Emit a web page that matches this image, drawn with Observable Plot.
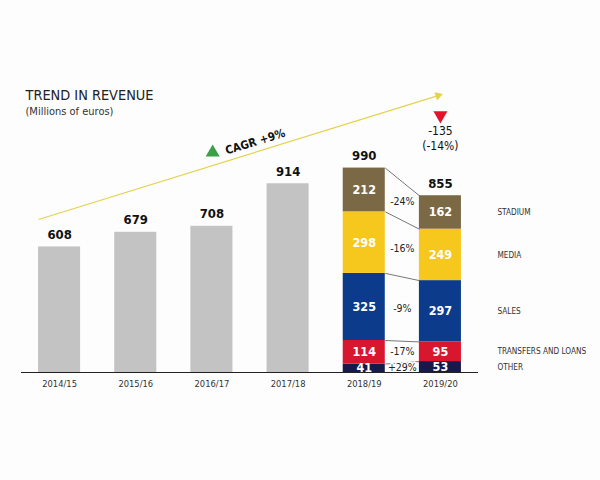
<!DOCTYPE html>
<html>
<head>
<meta charset="utf-8">
<script src="https://cdn.jsdelivr.net/npm/d3@7"></script>
<script src="https://cdn.jsdelivr.net/npm/@observablehq/plot@0.6"></script>
<style>
  html, body { margin: 0; padding: 0; background: #fdfdfd; }
  #chart svg { display: block; }
</style>
</head>
<body>
<div id="chart"></div>
<script>
// Season labels and total revenue (millions of euros)
const years = ["2014/15", "2015/16", "2016/17", "2017/18", "2018/19", "2019/20"];
const totals = [608, 679, 708, 914, 990, 855];

// Revenue breakdown for the last two seasons, bottom to top
const categories = ["OTHER", "TRANSFERS AND LOANS", "SALES", "MEDIA", "STADIUM"];
const rev1819 = [41, 114, 325, 298, 212];
const rev1920 = [53, 95, 297, 249, 162];
const changes = ["+29%", "-17%", "-9%", "-16%", "-24%"];
const catColors = ["#161a4a", "#d8172f", "#0d3b8c", "#f6c81e", "#7a6944"];

// Annotations
const cagrLabel = "CAGR +9%";
const dropLabel = "-135\n(-14%)";
const title = "TREND IN REVENUE";
const subtitle = "(Millions of euros)";

const FONT = "'DejaVu Sans Condensed', 'Liberation Sans Narrow', Roboto, sans-serif";
const hw = 0.276; // half bar width in x units

// Stack the breakdown segments
const segs = [];
[[4, rev1819], [5, rev1920]].forEach(([xi, vals]) => {
  let acc = 0;
  vals.forEach((v, k) => {
    segs.push({xi, cat: categories[k], value: v, y1: acc, y2: acc + v, mid: acc + v / 2});
    acc += v;
  });
});
const s1819 = segs.filter(d => d.xi === 4);
const s1920 = segs.filter(d => d.xi === 5);

// Connectors between segment tops, and change labels between the stacks
const links = categories.map((c, k) => ({y1: s1819[k].y2, y2: s1920[k].y2}));
const changeLabels = categories.map((c, k) => ({
  text: changes[k],
  y: (s1819[k].mid + s1920[k].mid) / 2
}));

// Grey bars for the earlier seasons
const greyBars = totals.slice(0, 4).map((t, i) => ({xi: i, total: t}));
const totalLabels = totals.map((t, i) => ({xi: i, total: t}));

// Trend arrow (data units)
const trend = {x1: -hw, y1: 741, x2: 4.97, y2: 1341};
const pxPerX = (478 - 21) / 6, pxPerY = (372 - 165.5) / 1000;
const trendAngle = Math.atan2((trend.y2 - trend.y1) * pxPerY, (trend.x2 - trend.x1) * pxPerX) * 180 / Math.PI;

const chart = Plot.plot({
  width: 600,
  height: 480,
  marginLeft: 21,
  marginRight: 122,
  marginTop: 0,
  marginBottom: 108,
  style: {fontFamily: FONT, background: "#fdfdfd", color: "#222"},
  x: {domain: [-0.5, 5.5], axis: null},
  y: {domain: [0, 1000], range: [372, 165.5], axis: null},
  marks: [
    // trend arrow
    Plot.link([trend], {x1: "x1", y1: "y1", x2: "x2", y2: "y2", stroke: "#e3d34c", strokeWidth: 1.2}),
    Plot.dot([trend], {x: "x2", y: "y2", symbol: "triangle", r: 3.2, fill: "#e3d34c", rotate: 90 - trendAngle}),
    Plot.dot([{x: 2.01, y: 1065}], {x: "x", y: "y", symbol: "triangle", r: 5.2, fill: "#3a9f46"}),
    Plot.text([cagrLabel], {x: 2.57, y: 1117, text: d => d, rotate: -trendAngle, fontSize: 11.5, fontWeight: "bold", fill: "#111"}),
    // grey bars
    Plot.rectY(greyBars, {x1: d => d.xi - hw, x2: d => d.xi + hw, y: "total", fill: "#c3c3c3"}),
    // stacked breakdown
    Plot.rectY(segs, {x1: d => d.xi - hw, x2: d => d.xi + hw, y1: "y1", y2: "y2", fill: d => catColors[categories.indexOf(d.cat)]}),
    Plot.link(links, {x1: 4 + hw, x2: 5 - hw, y1: "y1", y2: "y2", stroke: "#555", strokeWidth: 0.8}),
    Plot.text(segs, {x: "xi", y: "mid", text: "value", fill: "white", fontSize: 12.5, fontWeight: "bold"}),
    Plot.text(changeLabels, {x: 4.5, y: "y", text: "text", fontSize: 10.5, fill: "#222", stroke: "white", strokeWidth: 3}),
    Plot.text(s1920, {x: 5, y: "mid", text: "cat", dx: 57, textAnchor: "start", fontSize: 8.2, fill: "#333"}),
    // totals
    Plot.text(totalLabels, {x: "xi", y: "total", text: "total", dy: -12, fontSize: 13, fontWeight: "bold", fill: "#111"}),
    // drop marker
    Plot.dot([{x: 5, y: 1245}], {x: "x", y: "y", symbol: "triangle", r: 5.2, rotate: 180, fill: "#e3132b"}),
    Plot.text([dropLabel], {x: 5, y: 1138, text: d => d, fontSize: 12, lineHeight: 1.25, fill: "#111"}),
    // baseline and season axis
    Plot.ruleY([0], {stroke: "#222", strokeWidth: 1}),
    Plot.axisX({ticks: d3.range(6), tickFormat: i => years[i], tickSize: 0, tickPadding: 8, fontSize: 9.3, fill: "#333"}),
    // title
    Plot.text([title], {frameAnchor: "top-left", dx: 4, dy: 95, text: d => d, lineAnchor: "middle", fontSize: 14.4, fill: "#222"}),
    Plot.text([subtitle], {frameAnchor: "top-left", dx: 4, dy: 111, text: d => d, lineAnchor: "middle", fontSize: 11, fill: "#333"})
  ]
});
document.getElementById("chart").append(chart);
</script>
</body>
</html>
